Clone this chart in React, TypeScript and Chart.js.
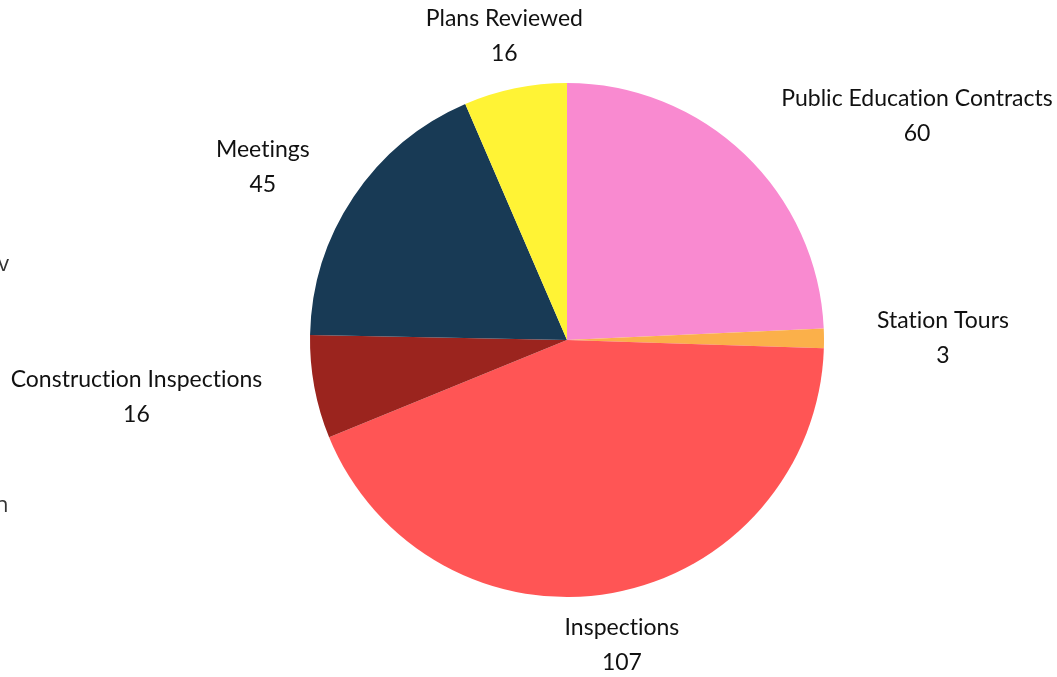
import React, { useEffect, useRef } from "react";
import { Chart, registerables } from "chart.js";

Chart.register(...registerables);

const categories = [
  "Public Education Contracts",
  "Station Tours",
  "Inspections",
  "Construction Inspections",
  "Meetings",
  "Plans Reviewed",
];
const values = [60, 3, 107, 16, 45, 16];
const colors = ["#F98AD0", "#FBB04A", "#FF5555", "#9B241E", "#183A55", "#FFF335"];

const LABEL_FONT = "23px Lato, 'Open Sans', sans-serif";

const outLabels = {
  id: "outLabels",
  afterDatasetsDraw(chart: any) {
    const ctx = chart.ctx;
    const meta = chart.getDatasetMeta(0);
    ctx.save();
    ctx.font = LABEL_FONT;
    try {
      (ctx as any).textRendering = "optimizeSpeed";
    } catch (e) {}
    ctx.fillStyle = "#111111";
    ctx.textBaseline = "middle";
    ctx.textAlign = "center";
    meta.data.forEach((arc: any, i: number) => {
      const p = arc.getProps(["x", "y", "startAngle", "endAngle", "outerRadius"], true);
      const mid = (p.startAngle + p.endAngle) / 2;
      const cx = Math.cos(mid);
      const cy = Math.sin(mid);
      const r = p.outerRadius + 53;
      const ax = p.x + cx * r;
      const ay = p.y + cy * r;
      const lines = [categories[i], String(values[i])];
      const w = Math.max(...lines.map((t) => ctx.measureText(t).width));
      let bx = ax;
      if (Math.abs(cx) >= 0.5) bx = cx > 0 ? ax + w / 2 : ax - w / 2;
      ctx.fillText(lines[0], bx, ay - 17.5);
      ctx.fillText(lines[1], bx, ay + 17.5);
    });
    ctx.restore();
  },
};

export default function App() {
  const ref = useRef<HTMLCanvasElement | null>(null);
  useEffect(() => {
    if (!ref.current) return;
    const chart = new Chart(ref.current, {
      type: "pie",
      data: {
        labels: categories,
        datasets: [
          {
            data: values,
            backgroundColor: colors,
            borderWidth: 0,
          },
        ],
      },
      options: {
        responsive: false,
        animation: false,
        layout: { padding: { top: 83, bottom: 80, left: 310, right: 233 } },
        plugins: {
          legend: { display: false },
          tooltip: { enabled: false },
        },
      },
      plugins: [outLabels],
    });
    return () => chart.destroy();
  }, []);
  return (
    <div style={{ position: "absolute", left: 0, top: 0, width: 1057, height: 677, overflow: "hidden", background: "#fff" }}>
      <canvas ref={ref} width={1057} height={677} style={{ display: "block" }} />
      <div style={{ position: "absolute", left: -2, top: 247, font: "22px 'Open Sans', sans-serif", color: "#333" }}>v</div>
      <div style={{ position: "absolute", left: -5, top: 488, font: "22px 'Open Sans', sans-serif", color: "#333" }}>n</div>
    </div>
  );
}
